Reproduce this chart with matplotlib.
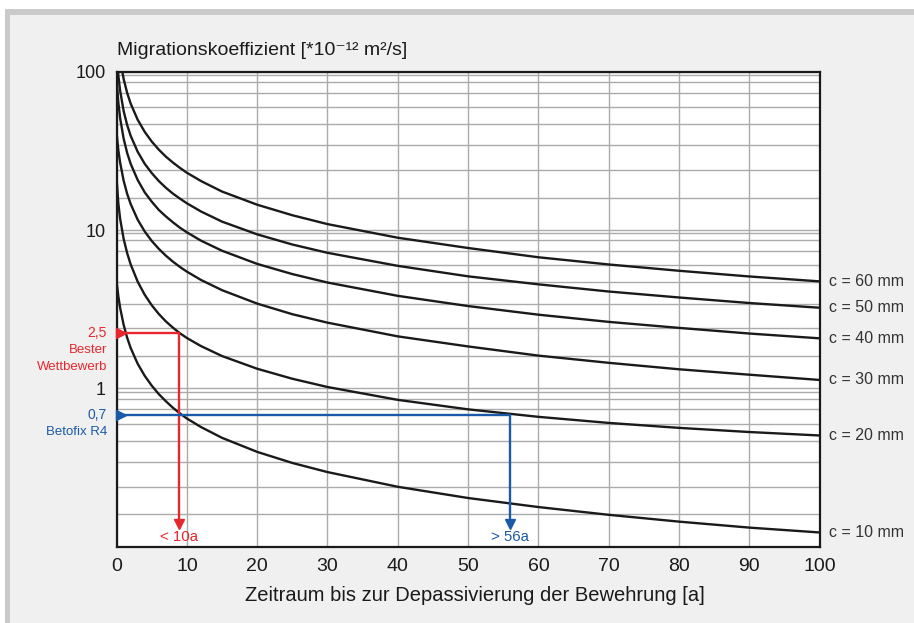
import numpy as np
import matplotlib
matplotlib.use('Agg')
import matplotlib.pyplot as plt
from matplotlib.patches import Rectangle
from matplotlib.ticker import FixedLocator, NullFormatter

plt.rcParams['font.family'] = ['Liberation Sans', 'DejaVu Sans']

# time axis [a] and migration coefficients
t = [0, 0.25, 0.5, 1, 1.5, 2, 3, 4, 5, 6, 7, 8, 9, 10, 12, 15, 20, 25, 30, 40, 50, 60, 70, 80, 90, 100]
c10 = [4.7, 3.81, 3.23, 2.52, 2.09, 1.80, 1.43, 1.20, 1.04, 0.92, 0.83, 0.755, 0.695, 0.645, 0.57,
       0.487, 0.397, 0.338, 0.296, 0.239, 0.203, 0.178, 0.159, 0.144, 0.132, 0.123]
c20 = [21, 14.7, 11.8, 8.8, 7.15, 6.07, 4.72, 3.90, 3.35, 2.95, 2.65, 2.42, 2.23, 2.08, 1.85,
       1.60, 1.33, 1.15, 1.02, 0.846, 0.737, 0.661, 0.605, 0.563, 0.530, 0.504]
c30 = [40.8, 31.9, 26.7, 20.5, 16.95, 14.6, 11.62, 9.79, 8.53, 7.61, 6.89, 6.32, 5.85, 5.46, 4.84,
       4.17, 3.43, 2.94, 2.60, 2.13, 1.84, 1.61, 1.45, 1.32, 1.22, 1.13]
c40 = [88.5, 63.7, 51.0, 37.8, 30.7, 26.2, 20.7, 17.3, 15.1, 13.4, 12.2, 11.2, 10.35, 9.67, 8.57,
       7.40, 6.11, 5.27, 4.66, 3.84, 3.31, 2.92, 2.63, 2.41, 2.22, 2.07]
c50 = [131, 94.5, 76.0, 56.5, 46.1, 39.4, 31.2, 26.2, 22.9, 20.4, 18.5, 17.0, 15.8, 14.75, 13.1,
       11.3, 9.39, 8.10, 7.18, 5.94, 5.10, 4.54, 4.09, 3.75, 3.46, 3.23]
c60 = [194, 146, 119.4, 90, 73.5, 62.9, 49.7, 41.7, 36.2, 32.2, 29.1, 26.7, 24.7, 23.0, 20.4,
       17.5, 14.45, 12.4, 10.9, 8.94, 7.7, 6.73, 6.06, 5.53, 5.09, 4.74]
curves = [c10, c20, c30, c40, c50, c60]
curve_labels = ['c = 10 mm', 'c = 20 mm', 'c = 30 mm', 'c = 40 mm', 'c = 50 mm', 'c = 60 mm']

x_ticks = [0, 10, 20, 30, 40, 50, 60, 70, 80, 90, 100]
y_ticks = [1, 10, 100]
y_ticklabels = ['1', '10', '100']
# the (uneven) horizontal grid lines of the original
y_grid = [95.2, 86, 73.7, 59.9, 46.8, 34.3, 24, 16,
          9.52, 8.6, 7.37, 5.99, 4.68, 3.43, 2.4, 1.6,
          0.952, 0.86, 0.737, 0.599, 0.468, 0.343, 0.24, 0.16]

# marked values: level, year, label, colour
red = '#e8262e'
blue = '#1a5aa6'
mark_level = [2.25, 0.68]
mark_year = [8.9, 56]
mark_value_txt = ['2,5', '0,7']
mark_name_txt = [['Bester', 'Wettbewerb'], ['Betofix R4']]
mark_year_txt = ['< 10a', '> 56a']
mark_col = [red, blue]
arrow_end = 0.139

fig = plt.figure(figsize=(9.14, 6.23), dpi=100, facecolor='white')
fig.add_artist(Rectangle((5/914, 0), 1, 1 - 9/623, transform=fig.transFigure,
                         facecolor='#cacaca', edgecolor='none', zorder=-20))
fig.add_artist(Rectangle((10/914, 0), 1, 1 - 15/623, transform=fig.transFigure,
                         facecolor='#f0f0f0', edgecolor='none', zorder=-19))

ax = fig.add_axes([0.12757, 0.12247, 0.76915, 0.76244])
ax.set_facecolor('white')
ax.set_yscale('log')
ax.set_xlim(0, 100)
ax.set_ylim(0.1, 100)

ax.set_xticks(x_ticks)
ax.set_xticklabels([str(v) for v in x_ticks])
ax.set_yticks(y_ticks)
ax.set_yticklabels(y_ticklabels)
ax.yaxis.set_minor_locator(FixedLocator(y_grid))
ax.yaxis.set_minor_formatter(NullFormatter())
ax.tick_params(which='both', length=0, labelsize=14, colors='#1a1a1a')
ax.tick_params(axis='x', pad=8)
ax.tick_params(axis='y', pad=8, labelsize=13)
ax.grid(True, which='both', color='#ababab', lw=1.0)
ax.set_axisbelow(True)
for s in ax.spines.values():
    s.set_linewidth(1.6)
    s.set_color('#1a1a1a')
    s.set_zorder(5)

for vals, lab in zip(curves, curve_labels):
    ax.plot(t, vals, color='#1a1a1a', lw=1.7, zorder=3)
    ax.annotate(lab, xy=(100, vals[-1]), xytext=(6.5, 0), textcoords='offset points',
                va='center', ha='left', fontsize=11.5, color='#333333', annotation_clip=False)

for i in range(len(mark_level)):
    col = mark_col[i]
    lv = mark_level[i]
    yr = mark_year[i]
    ax.plot([0, yr, yr], [lv, lv, arrow_end], color=col, lw=1.7, zorder=4)
    ax.plot([0.6], [lv], marker='>', color=col, ms=6.5, clip_on=False, zorder=6)
    ax.plot([yr], [arrow_end], marker='v', color=col, ms=7, zorder=6)
    ax.annotate(mark_value_txt[i], xy=(0, lv), xytext=(-7, 0), textcoords='offset points',
                ha='right', va='center', fontsize=10, color=col, annotation_clip=False)
    for j, nm in enumerate(mark_name_txt[i]):
        ax.annotate(nm, xy=(0, lv), xytext=(-7, -12.3 * (j + 1)), textcoords='offset points',
                    ha='right', va='center', fontsize=9.5, color=col, annotation_clip=False)
    ax.annotate(mark_year_txt[i], xy=(yr, 0.1), xytext=(0, 7), textcoords='offset points',
                ha='center', va='center', fontsize=10.8, color=col, annotation_clip=False)

ax.text(0, 1.0436, 'Migrationskoeffizient [*10⁻¹² m²/s]', transform=ax.transAxes,
        ha='left', va='center', fontsize=14, color='#1a1a1a')
ax.set_xlabel('Zeitraum bis zur Depassivierung der Bewehrung [a]', fontsize=14.5,
              color='#1a1a1a')
ax.xaxis.set_label_coords(0.51, -0.082)

fig.savefig('out.png', dpi=100, facecolor=fig.get_facecolor())
